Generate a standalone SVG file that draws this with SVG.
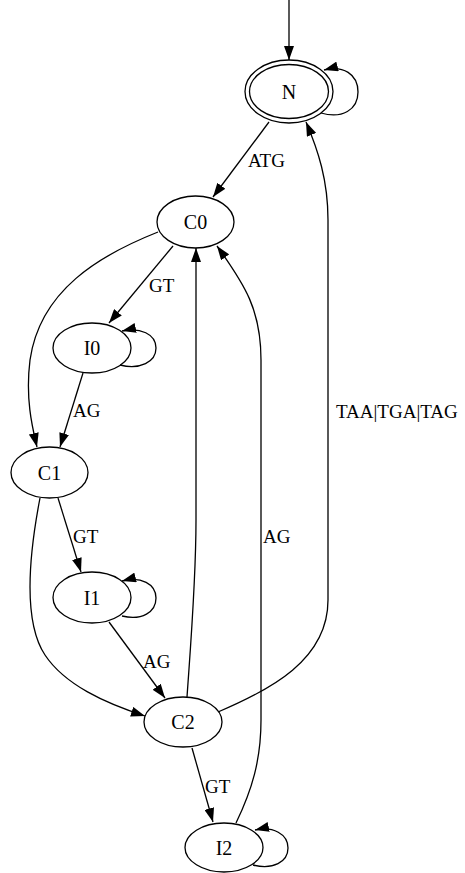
<svg xmlns="http://www.w3.org/2000/svg" width="465" height="873" viewBox="0 0 465 873">
<style>
.n ellipse{fill:none;stroke:#000;stroke-width:1.3}
.n text{font-family:"Liberation Serif","Times New Roman",serif;font-size:20px;text-anchor:middle;fill:#000}
.e path{fill:none;stroke:#000;stroke-width:1.3;marker-end:url(#ah)}
.l text{font-family:"Liberation Serif","Times New Roman",serif;font-size:19px;fill:#000}
</style>
<defs>
<marker id="ah" viewBox="0 0 14 10" refX="14" refY="5" markerWidth="14" markerHeight="10" markerUnits="userSpaceOnUse" orient="auto">
<path d="M0,0 L14,5 L0,10 z" fill="#000"/>
</marker>
</defs>
<rect width="465" height="873" fill="#fff"/>
<g id="edges" class="e">
<path d="M289,0 L289,60"/>
<path d="M321,113 C342,119 358,110 358,92 C358,74 343,65 324,70"/>
<path d="M269,122 L213,197"/>
<path d="M173,246 L109,323"/>
<path d="M158,232 C100,255 40,290 30,360 C25,400 33,430 37,447"/>
<path d="M120,365 C140,370 156,362 156,348 C156,334 140,327 122,331"/>
<path d="M83,373 L60,447"/>
<path d="M58,498 L81,572"/>
<path d="M40,498 C30,550 22,620 45,655 C65,685 105,703 145,716"/>
<path d="M122,616 C142,621 156,612 156,598 C156,584 141,576 122,581"/>
<path d="M109,622 L165,698"/>
<path d="M187,697 C191,640 196,580 196,520 L196,248"/>
<path d="M236,823 C252,790 261,760 261,720 L261,360 C261,310 245,285 217,246"/>
<path d="M218,712 C270,690 328,660 328,600 L328,220 C328,180 318,150 306,122"/>
<path d="M192,748 L213,822"/>
<path d="M253,865 C273,870 288,862 288,848 C288,834 273,826 255,830"/>
</g>
<g id="labels" class="l">
<text x="248" y="167">ATG</text>
<text x="149" y="292">GT</text>
<text x="73" y="417">AG</text>
<text x="73" y="543">GT</text>
<text x="143" y="668">AG</text>
<text x="263" y="543">AG</text>
<text x="205" y="793">GT</text>
<text x="336" y="418">TAA|TGA|TAG</text>
</g>
<g id="N" class="n"><ellipse cx="289" cy="91.5" rx="44" ry="31.5"/><ellipse cx="289" cy="91.5" rx="39.5" ry="27"/><text x="289" y="98.5">N</text></g>
<g id="C0" class="n"><ellipse cx="195.5" cy="222" rx="38.5" ry="26"/><text x="195.5" y="229">C0</text></g>
<g id="I0" class="n"><ellipse cx="92" cy="348" rx="39" ry="25"/><text x="92" y="355">I0</text></g>
<g id="C1" class="n"><ellipse cx="49.5" cy="472.5" rx="38.5" ry="25.5"/><text x="49.5" y="479.5">C1</text></g>
<g id="I1" class="n"><ellipse cx="92" cy="597.5" rx="39" ry="25.5"/><text x="92" y="604.5">I1</text></g>
<g id="C2" class="n"><ellipse cx="183" cy="722" rx="39" ry="25"/><text x="183" y="729">C2</text></g>
<g id="I2" class="n"><ellipse cx="224" cy="847.5" rx="39" ry="24.5"/><text x="224" y="854.5">I2</text></g>
</svg>
